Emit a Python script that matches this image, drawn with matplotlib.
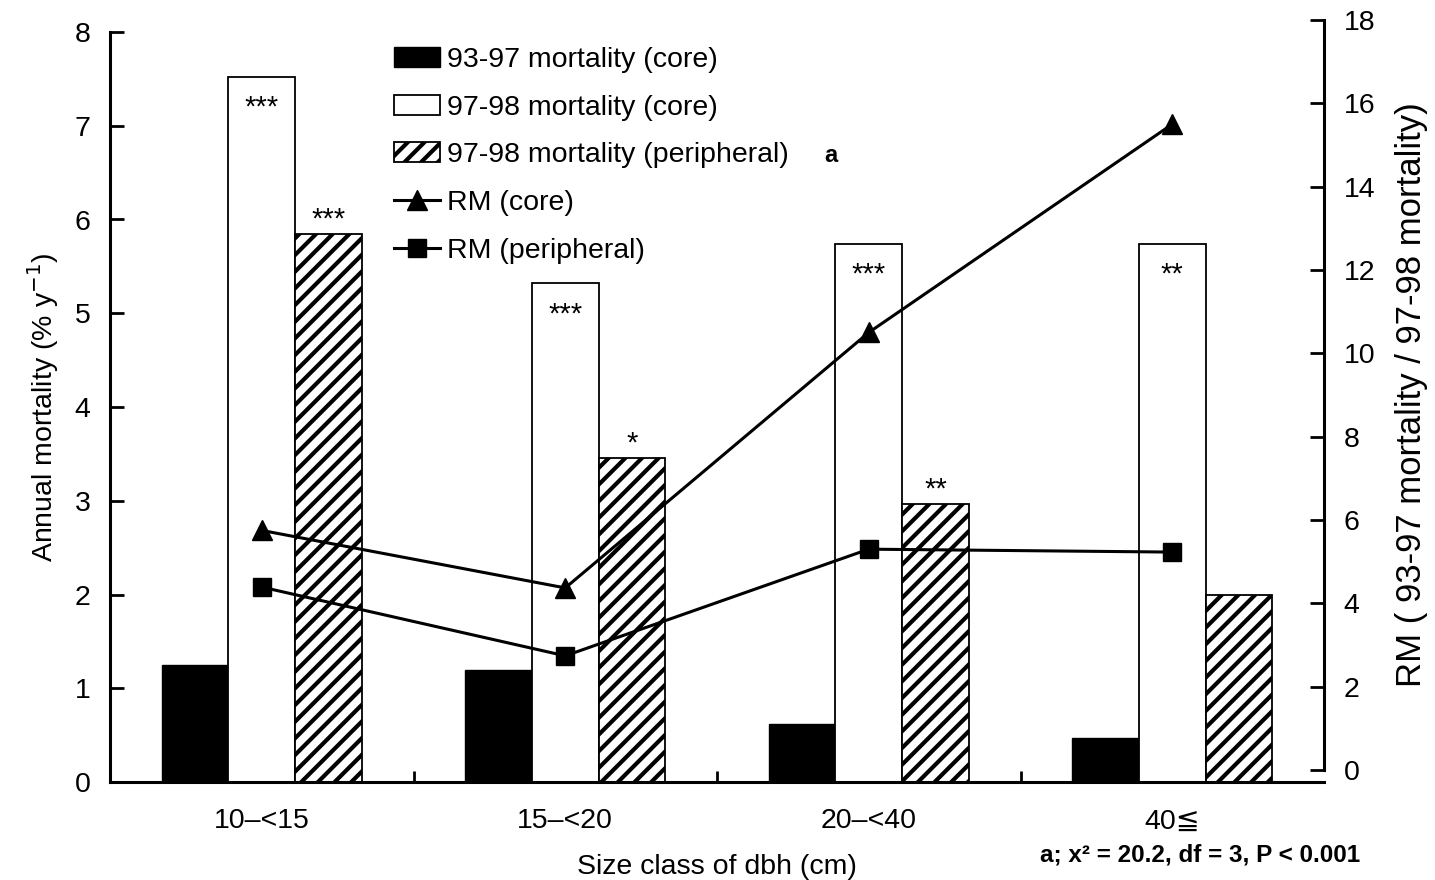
import matplotlib
matplotlib.use('Agg')
import matplotlib.pyplot as plt
import numpy as np

plt.rcParams['font.family'] = ['Liberation Sans', 'DejaVu Sans']
plt.rcParams['hatch.linewidth'] = 3.0

# data
size_classes = ['10\u2013<15', '15\u2013<20', '20\u2013<40', '40\u2266']
mort_9397_core = [1.25, 1.19, 0.62, 0.47]
mort_9798_core = [7.52, 5.32, 5.74, 5.74]
mort_9798_peri = [5.85, 3.46, 2.97, 2.00]
rm_core = [5.75, 4.37, 10.5, 15.5]
rm_peri = [4.39, 2.74, 5.30, 5.23]
stars_core = ['***', '***', '***', '**']
stars_peri = ['***', '*', '**', '']

W, H = 1435, 880
fig = plt.figure(figsize=(W / 100, H / 100), dpi=100)

# left axis (bars)
ax = fig.add_axes([110 / W, 1 - 782 / H, (1324 - 110) / W, 750 / H])
# right axis sits a bit higher in the scanned original
ax2 = fig.add_axes([110 / W, 1 - 770 / H, (1324 - 110) / W, 750 / H])
ax2.patch.set_alpha(0)

x = np.arange(len(size_classes))
bw = 0.22
b1 = ax.bar(x - bw, mort_9397_core, bw, color='black', edgecolor='black', linewidth=1.0)
b2 = ax.bar(x, mort_9798_core, bw, color='white', edgecolor='black', linewidth=1.3)
b3 = ax.bar(x + bw, mort_9798_peri, bw, color='white', edgecolor='black', linewidth=1.3, hatch='//')

for i in range(len(x)):
    if stars_core[i]:
        ax.text(x[i], mort_9798_core[i] - 0.33, stars_core[i], ha='center', va='center', fontsize=21)
    if stars_peri[i]:
        ax.text(x[i] + bw, mort_9798_peri[i] + 0.15, stars_peri[i], ha='center', va='center', fontsize=21)

fs = 20.5
ax.set_xlim(-0.5, 3.5)
ax.set_ylim(0, 8)
ax.set_yticks(range(0, 9))
ax.set_xticks(x)
ax.set_xticklabels(size_classes, fontsize=fs)
ax.set_xticks([0.5, 1.5, 2.5], minor=True)
ax.tick_params(axis='x', which='major', length=0, pad=19)
ax.tick_params(axis='x', which='minor', direction='in', length=8, width=2)
ax.tick_params(axis='y', direction='in', length=10, width=2, labelsize=fs, pad=14)
ax.spines['top'].set_visible(False)
ax.spines['right'].set_visible(False)
ax.spines['left'].set_linewidth(2.2)
ax.spines['bottom'].set_linewidth(2.2)
ax.set_ylabel('Annual mortality (% y$^{-1}$)', fontsize=fs, labelpad=10)
ax.set_xlabel('Size class of dbh (cm)', fontsize=fs, labelpad=14)

# right axis (RM lines)
l1, = ax2.plot(x, rm_core, '-^', color='black', lw=2.2, markersize=15)
l2, = ax2.plot(x, rm_peri, '-s', color='black', lw=2.2, markersize=13)
ax2.set_xlim(-0.5, 3.5)
ax2.set_ylim(0, 18)
ax2.set_yticks(range(0, 19, 2))
ax2.set_xticks([])
ax2.yaxis.tick_right()
ax2.yaxis.set_label_position('right')
ax2.tick_params(axis='y', direction='in', length=10, width=2, labelsize=fs, pad=14)
for s in ['top', 'left', 'bottom']:
    ax2.spines[s].set_visible(False)
ax2.spines['right'].set_linewidth(2.2)
ax2.set_ylabel('RM ( 93-97 mortality / 97-98 mortality)', fontsize=25, labelpad=14)

fig.legend([b1, b2, b3, l1, l2],
           ['93-97 mortality (core)', '97-98 mortality (core)',
            '97-98 mortality (peripheral)', 'RM (core)', 'RM (peripheral)'],
           loc='upper left', bbox_to_anchor=(394 / W, 1 - 47 / H), frameon=False,
           fontsize=fs, handlelength=1.6, handleheight=0.7, handletextpad=0.25,
           labelspacing=0.76, borderpad=0, borderaxespad=0)
fig.text(824 / W, 1 - 155 / H, 'a', fontsize=17, fontweight='bold', va='center')
fig.text(1040 / W, 1 - 855 / H, 'a; x\u00b2 = 20.2, df = 3, P < 0.001',
         fontsize=17.5, fontweight='bold', va='center')

fig.savefig('out.png', dpi=100)
